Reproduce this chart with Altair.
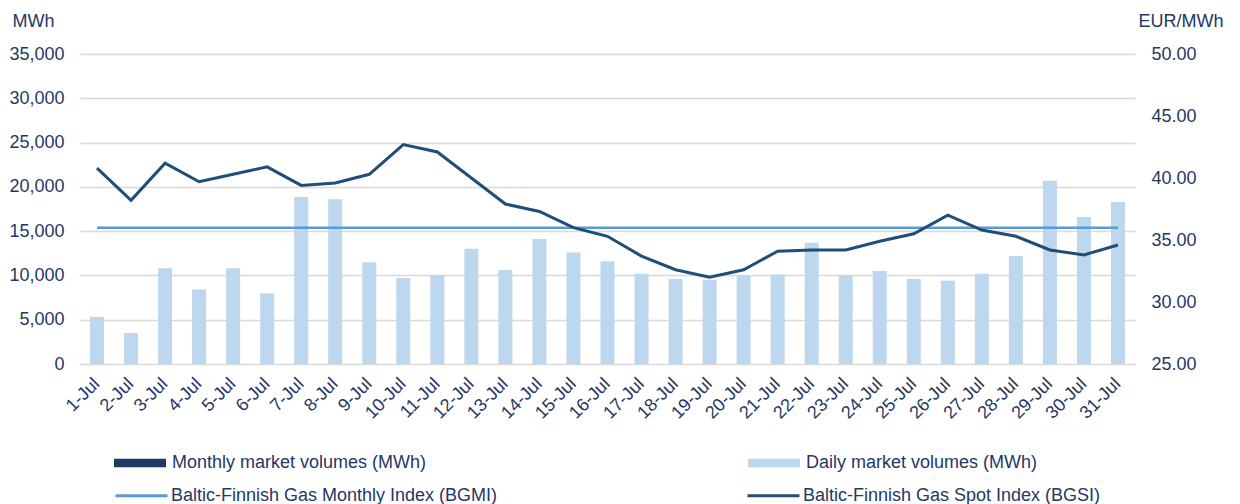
import altair as alt
import pandas as pd

days = ["1-Jul", "2-Jul", "3-Jul", "4-Jul", "5-Jul", "6-Jul", "7-Jul", "8-Jul", "9-Jul", "10-Jul",
        "11-Jul", "12-Jul", "13-Jul", "14-Jul", "15-Jul", "16-Jul", "17-Jul", "18-Jul", "19-Jul", "20-Jul",
        "21-Jul", "22-Jul", "23-Jul", "24-Jul", "25-Jul", "26-Jul", "27-Jul", "28-Jul", "29-Jul", "30-Jul", "31-Jul"]
daily_volumes = [5300, 3500, 10800, 8400, 10800, 8000, 18850, 18600, 11500, 9700,
                 10000, 13000, 10600, 14100, 12600, 11600, 10200, 9600, 9500, 10000,
                 10100, 13700, 10000, 10500, 9600, 9400, 10200, 12200, 20700, 16600, 18300]
bgsi = [40.8, 38.2, 41.2, 39.7, 40.3, 40.9, 39.4, 39.6, 40.3, 42.7,
        42.1, 40.0, 37.9, 37.3, 36.0, 35.3, 33.7, 32.6, 32.0, 32.6,
        34.1, 34.2, 34.2, 34.9, 35.5, 37.0, 35.8, 35.3, 34.2, 33.8, 34.6]
bgmi = 35.99

left_ticks = [0, 5000, 10000, 15000, 20000, 25000, 30000, 35000]
right_ticks = [25, 30, 35, 40, 45, 50]

S_MONTHLY = "Monthly market volumes (MWh)"
S_DAILY = "Daily market volumes (MWh)"
S_BGMI = "Baltic-Finnish Gas Monthly Index (BGMI)"
S_BGSI = "Baltic-Finnish Gas Spot Index (BGSI)"
bar_series = [S_MONTHLY, S_DAILY]
bar_colors = ["#1F3864", "#BDD7EE"]
line_series = [S_BGMI, S_BGSI]
line_colors = ["#5B9BD5", "#1F4E79"]

FONT = "Liberation Sans"
TXT = "#1F3864"
GRID = "#D9D9D9"

df_bars = pd.DataFrame({"day": days, "volume": daily_volumes, "series": S_DAILY})
df_bgsi = pd.DataFrame({"day": days, "price": bgsi, "series": S_BGSI})
df_bgmi = pd.DataFrame({"day": days, "price": [bgmi] * len(days), "series": S_BGMI})

bar_legend = alt.Legend(
    title=None, orient="none", legendX=34, legendY=383, columns=2, direction="horizontal",
    columnPadding=321, padding=0,
    labelFont=FONT, labelFontSize=18, labelColor=TXT, labelLimit=600, labelOffset=6,
    symbolSize=2704, symbolType="M-1,-0.16H1V0.16H-1Z", symbolStrokeWidth=0, symbolOpacity=1,
)
line_legend = alt.Legend(
    title=None, orient="none", legendX=34, legendY=414, columns=2, direction="horizontal",
    columnPadding=243, padding=0,
    labelFont=FONT, labelFontSize=18, labelColor=TXT, labelLimit=600, labelOffset=2,
    symbolSize=2704, symbolType="stroke", symbolStrokeWidth=3, symbolOpacity=1,
)

x_enc = alt.X(
    "day:N", sort=days,
    scale=alt.Scale(paddingInner=0, paddingOuter=0),
    axis=alt.Axis(title=None, labelAngle=-45, labelAlign="right", labelBaseline="middle",
                  labelPadding=17, labelOverlap=False, domain=False, ticks=False, grid=False,
                  labelFont=FONT, labelFontSize=18, labelColor=TXT),
)

left_axis = alt.Axis(
    title="MWh", titleAngle=0, titleX=-68, titleY=-33, titleAlign="left", titleBaseline="middle",
    titleFont=FONT, titleFontSize=18, titleFontWeight="normal", titleColor=TXT,
    values=left_ticks, format=",.0f", labelFont=FONT, labelFontSize=18, labelColor=TXT,
    labelPadding=16, domain=False, ticks=False, grid=True, gridColor=GRID, gridWidth=1.5,
)
right_axis = alt.Axis(
    title="EUR/MWh", orient="right", titleAngle=0, titleX=3, titleY=-33, titleAlign="left",
    titleBaseline="middle", titleFont=FONT, titleFontSize=18, titleFontWeight="normal", titleColor=TXT,
    values=right_ticks, format=".2f", labelFont=FONT, labelFontSize=18, labelColor=TXT,
    labelPadding=16, domain=False, ticks=False, grid=False,
)

bars = alt.Chart(df_bars).mark_bar(size=14).encode(
    x=x_enc,
    y=alt.Y("volume:Q", scale=alt.Scale(domain=[0, 35000], nice=False), axis=left_axis),
    color=alt.Color("series:N", scale=alt.Scale(domain=bar_series, range=bar_colors), legend=bar_legend),
)

line_stroke = alt.Stroke("series:N", scale=alt.Scale(domain=line_series, range=line_colors), legend=line_legend)
price_y = alt.Y("price:Q", scale=alt.Scale(domain=[25, 50], nice=False), axis=right_axis)

bgmi_line = alt.Chart(df_bgmi).mark_line(strokeWidth=2.5).encode(x=x_enc, y=price_y, stroke=line_stroke)
bgsi_line = alt.Chart(df_bgsi).mark_line(strokeWidth=3).encode(x=x_enc, y=price_y, stroke=line_stroke)

chart = alt.layer(bars, alt.layer(bgmi_line, bgsi_line)).resolve_scale(
    y="independent"
).properties(
    width=1055, height=310,
    padding={"left": 72, "top": 46, "right": 97, "bottom": 140},
    autosize=alt.AutoSizeParams(type="none"),
).configure(background="white").configure_view(stroke="transparent", strokeWidth=0)

chart.save("out.html", embed_options={"renderer": "svg", "actions": False})
